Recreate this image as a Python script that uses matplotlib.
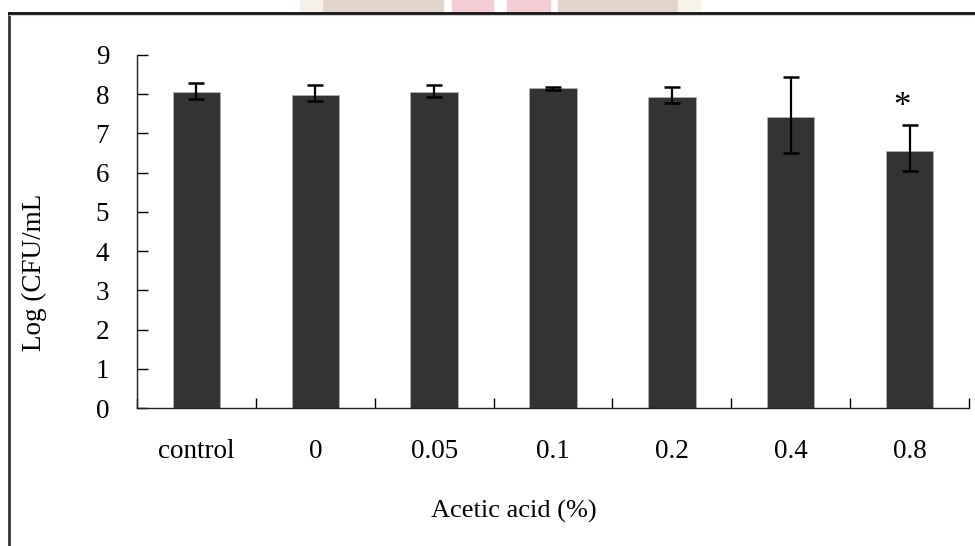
import matplotlib
matplotlib.use("Agg")
import matplotlib.pyplot as plt
from matplotlib.patches import Rectangle
from matplotlib.lines import Line2D
from matplotlib.transforms import Bbox
import numpy as np

categories = ["control", "0", "0.05", "0.1", "0.2", "0.4", "0.8"]
means = [8.05, 7.99, 8.05, 8.15, 7.93, 7.42, 6.56]
err_low = [0.17, 0.17, 0.12, 0.04, 0.16, 0.92, 0.52]
err_high = [0.23, 0.24, 0.18, 0.04, 0.25, 1.02, 0.65]
yticks = [0, 1, 2, 3, 4, 5, 6, 7, 8, 9]
sig_marks = ["", "", "", "", "", "", "*"]
xlabel = "Acetic acid (%)"
ylabel = "Log (CFU/mL)"

W, H = 975, 546
fig = plt.figure(figsize=(W / 100, H / 100), dpi=100)
fig.patch.set_facecolor("white")
plt.rcParams["font.family"] = ["Liberation Serif", "DejaVu Serif"]

# faint watermark strip above the frame
for x0, x1, c in [(323, 443, "#e2d4ca"), (452, 493, "#f5cdd4"),
                  (507, 550, "#f5cdd4"), (558, 677, "#e2d4ca"),
                  (300, 322, "#f6f0ea"), (678, 700, "#f8f3e8")]:
    fig.patches.append(Rectangle((x0 / W, 1 - 12 / H), (x1 - x0) / W, 12 / H,
                                 transform=fig.transFigure, color=c, zorder=0))

# figure frame (left and top lines)
fig.lines.append(Line2D([9 / W, 9 / W], [0, 1 - 13 / H], transform=fig.transFigure,
                        color="#333333", lw=2.0))
fig.lines.append(Line2D([9 / W, 1], [1 - 13 / H, 1 - 13 / H], transform=fig.transFigure,
                        color="#111111", lw=2.0))
fig.lines.append(Line2D([9 / W, 1], [1 - 14.8 / H, 1 - 14.8 / H], transform=fig.transFigure,
                        color="#cccccc", lw=0.8))

left, right, top, bottom = 137, 969, 55, 408
ax = fig.add_axes([left / W, 1 - bottom / H, (right - left) / W, (bottom - top) / H])

x = np.arange(len(categories))
ax.bar(x, means, width=0.40, color="#333333", edgecolor="#b0b0b0", linewidth=0.6, zorder=2)
ax.errorbar(x, means, yerr=[err_low, err_high], fmt="none", ecolor="black",
            elinewidth=1.6, capsize=6, capthick=1.8, zorder=3)

for xi, m, eh, s in zip(x, means, err_high, sig_marks):
    if s:
        ax.text(xi - 0.06, m + eh + 0.45, s, ha="center", va="center", fontsize=25)

ax.set_xlim(-0.5, len(categories) - 0.5)
ax.set_ylim(0, 9)
ax.set_yticks(yticks)
ax.set_yticklabels([str(t) for t in yticks])
ax.set_xticks(x)
ax.set_xticklabels(categories)
ax.set_xticks(np.arange(len(categories) + 1) - 0.5, minor=True)

ax.tick_params(axis="y", direction="in", length=8, width=1, pad=20, labelsize=19.5)
ax.tick_params(axis="x", which="major", length=0, pad=22, labelsize=19.5)
ax.tick_params(axis="x", which="minor", direction="in", length=7, width=1)

for sp in ["top", "right"]:
    ax.spines[sp].set_visible(False)
for sp in ["left", "bottom"]:
    ax.spines[sp].set_linewidth(1.0)
    ax.spines[sp].set_color("#222222")

fig.text(514 / W, 1 - 511 / H, xlabel, ha="center", va="center", fontsize=19)
yl = fig.text(34 / W, 1 - 268 / H, ylabel, ha="center", va="center", rotation=90, fontsize=19.5)
yl.set_clip_box(Bbox.from_extents(0, 0, W, H - 196))
yl.set_clip_on(True)

fig.savefig("out.png", dpi=100, facecolor="white")
